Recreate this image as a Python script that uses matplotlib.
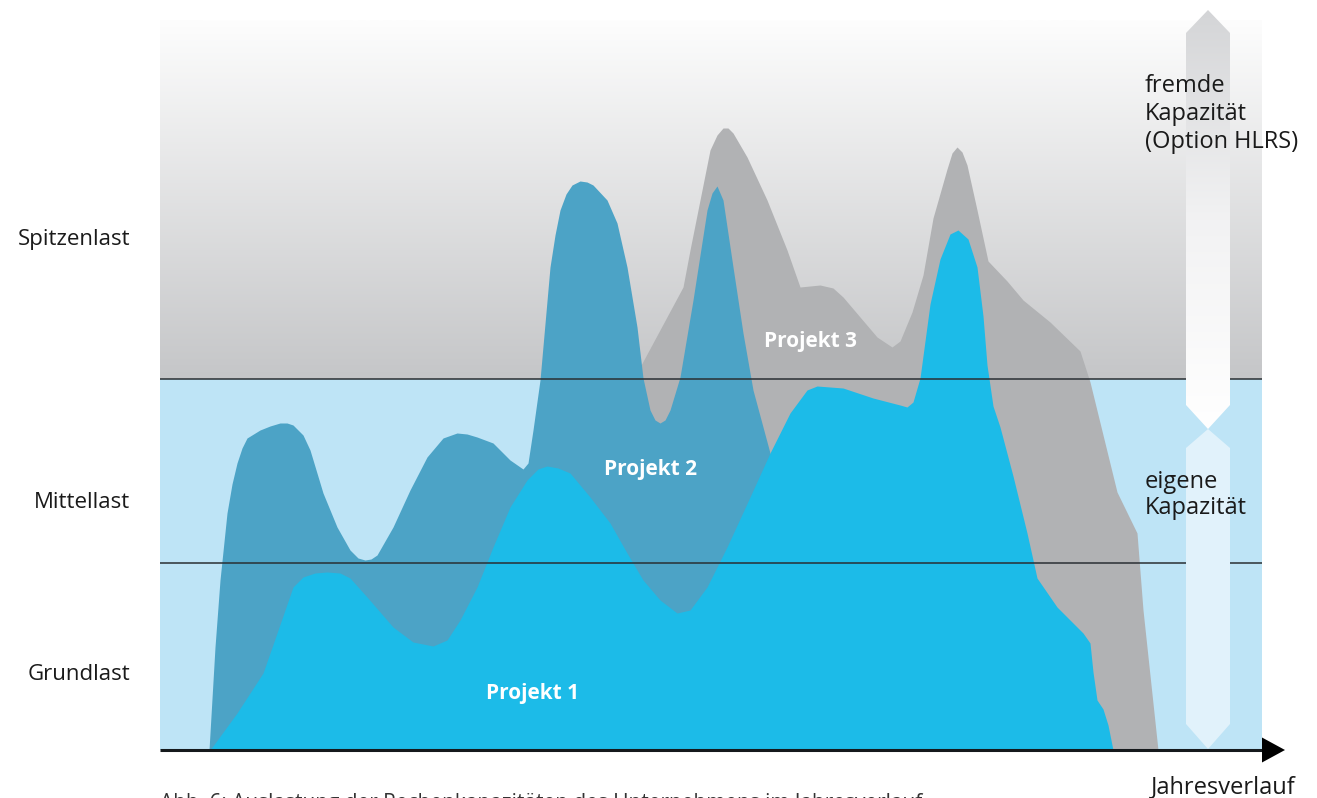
import numpy as np
import matplotlib
matplotlib.use('Agg')
import matplotlib.pyplot as plt
from matplotlib.colors import LinearSegmentedColormap
from matplotlib.patches import Polygon, Rectangle

plt.rcParams['font.family'] = ['Open Sans', 'DejaVu Sans']

# Jahresverlauf (x) und Last (y)
p1_x = [50, 77, 103, 117, 133, 143, 155, 167, 180, 190, 207, 233, 253, 273, 287, 300, 317, 333, 350, 367, 378, 387,
        398, 410, 430, 450, 467, 483, 500, 517, 530, 547, 567, 590, 610, 630, 647, 657, 683, 713, 740, 747, 753,
        760, 770, 780, 790, 798, 808, 817, 823, 827, 833, 840, 853, 867, 877, 897, 923, 930, 933, 937, 943,
        948, 953]
p1_y = [0, 37, 77, 117, 163, 173, 177, 178, 177, 172, 153, 123, 108, 104, 110, 130, 163, 203, 243, 270, 281, 284,
        282, 277, 253, 227, 197, 170, 150, 137, 140, 163, 203, 253, 297, 337, 360, 364, 362, 352, 345, 343, 348,
        372, 446, 491, 516, 520, 511, 483, 434, 385, 344, 323, 274, 217, 172, 143, 117, 107, 78, 50, 41,
        25, 0]

p2_x = [49, 55, 60, 67, 72, 77, 82, 87, 100, 110, 120, 127, 133, 143, 150, 163, 177, 190, 198, 205, 211, 217, 233, 250, 267,
        283, 297, 307, 317, 333, 350, 363, 368, 373, 380, 390, 395, 400, 406, 412, 420, 427, 433, 447, 457, 467, 477, 483,
        490, 495, 500, 505, 510, 520, 533, 547, 552, 557, 563, 573, 583, 593, 603, 610, 630, 650, 670]
p2_y = [0, 103, 170, 237, 266, 287, 302, 312, 320, 324, 327, 327, 325, 315, 300, 257, 223, 200, 192, 190, 191, 195, 223, 260,
        293, 312, 317, 316, 313, 307, 290, 281, 287, 320, 370, 483, 515, 540, 556, 565, 569, 568, 565, 550, 527, 483, 423,
        372, 340, 330, 327, 330, 340, 373, 450, 540, 557, 564, 550, 483, 417, 360, 323, 297, 220, 130, 0]

p3_x = [385, 480, 523, 530, 540, 550, 557, 563, 568, 573, 587, 607, 627, 640, 660, 673, 683, 700, 717, 732, 740, 752,
        763, 773, 787, 792, 797, 802, 807, 817, 828, 847, 863, 890, 920, 930, 957, 977, 983, 998]
p3_y = [0, 383, 463, 500, 550, 600, 615, 622, 622, 617, 593, 550, 500, 463, 465, 462, 453, 433, 413, 403, 409, 438,
        475, 532, 581, 597, 603, 598, 585, 540, 489, 469, 450, 428, 399, 368, 258, 217, 140, 0]

x_max = 1102
eigene_max = 371      # Grenze eigene / fremde Kapazitaet
grund_max = 187       # Grenze Grundlast / Mittellast
top = 730

levels = ['Spitzenlast', 'Mittellast', 'Grundlast']
level_y = [511, 248, 75]

fig = plt.figure(figsize=(13.17, 7.98), dpi=100)
ax = fig.add_axes([160 / 1317, 48 / 798, 1102 / 1317, 750 / 798])

# Hintergrund
grey_cmap = LinearSegmentedColormap.from_list('g', ['#c5c6c8', '#fdfdfd'])
grad = np.linspace(0, 1, 256).reshape(-1, 1)
ax.imshow(grad, extent=[0, x_max, eigene_max, top], origin='lower', aspect='auto', cmap=grey_cmap, zorder=0)
ax.add_patch(Rectangle((0, 0), x_max, eigene_max, facecolor='#bee4f6', edgecolor='none', zorder=0))

ax.fill_between(p3_x, p3_y, color='#b1b2b4', lw=0, zorder=1)
ax.fill_between(p2_x, p2_y, color='#4ca3c6', lw=0, zorder=2)
ax.fill_between(p1_x, p1_y, color='#1cbbe8', lw=0, zorder=3)

ax.axhline(eigene_max, color='#2a2f33', lw=1.1, zorder=4)
ax.axhline(grund_max, color='#2a2f33', lw=1.1, zorder=4)

# Achse mit Pfeil
ax.plot([0, x_max + 2], [0, 0], color='#15191c', lw=2.2, zorder=6, clip_on=False, solid_capstyle='butt')
ax.add_patch(Polygon([[x_max, 12.5], [x_max, -12.5], [x_max + 23, 0]], closed=True,
                     facecolor='black', edgecolor='none', zorder=6, clip_on=False))

# Kapazitaetspfeile
ax_l, ax_r, ax_c = 1026, 1070, 1048
up = Polygon([[ax_c, 740], [ax_r, 717], [ax_r, 345], [ax_c, 321], [ax_l, 345], [ax_l, 717]],
             closed=True, facecolor='none', edgecolor='none', zorder=5)
ax.add_patch(up)
arrow_cmap = LinearSegmentedColormap.from_list('a', ['#ffffff', '#f2f2f3', '#d4d5d7'])
im = ax.imshow(grad, extent=[ax_l, ax_r, 321, 740], origin='lower', aspect='auto', cmap=arrow_cmap, zorder=5)
im.set_clip_path(up)
ax.add_patch(Polygon([[ax_c, 321], [ax_r, 302], [ax_r, 26], [ax_c, 1], [ax_l, 26], [ax_l, 302]],
                     closed=True, facecolor='#e1f2fb', edgecolor='none', zorder=5))

ax.set_xlim(0, x_max)
ax.set_ylim(0, 750)
ax.axis('off')

# Beschriftungen
for lab, yy in zip(levels, level_y):
    ax.text(-30, yy, lab, ha='right', va='center', fontsize=16, color='#1a1a1a', clip_on=False)

ax.text(373, 57, 'Projekt 1', ha='center', va='center', fontsize=15, fontweight='bold', color='white', zorder=7)
ax.text(490, 280, 'Projekt 2', ha='center', va='center', fontsize=15, fontweight='bold', color='white', zorder=7)
ax.text(650, 409, 'Projekt 3', ha='center', va='center', fontsize=15, fontweight='bold', color='white', zorder=7)

ax.text(985, 636, 'fremde\nKapazität\n(Option HLRS)', ha='left', va='center', fontsize=17,
        color='#1a1a1a', linespacing=1.22, zorder=7)
ax.text(985, 255, 'eigene\nKapazität', ha='left', va='center', fontsize=17,
        color='#1a1a1a', linespacing=1.1, zorder=7)
ax.text(1063, -37, 'Jahresverlauf', ha='center', va='center', fontsize=17, color='#1a1a1a', clip_on=False)
ax.text(0, -43, 'Abb. 6: Auslastung der Rechenkapazitäten des Unternehmens im Jahresverlauf',
        ha='left', va='top', fontsize=15, color='#333333', clip_on=False)

fig.savefig('out.png', dpi=100)
